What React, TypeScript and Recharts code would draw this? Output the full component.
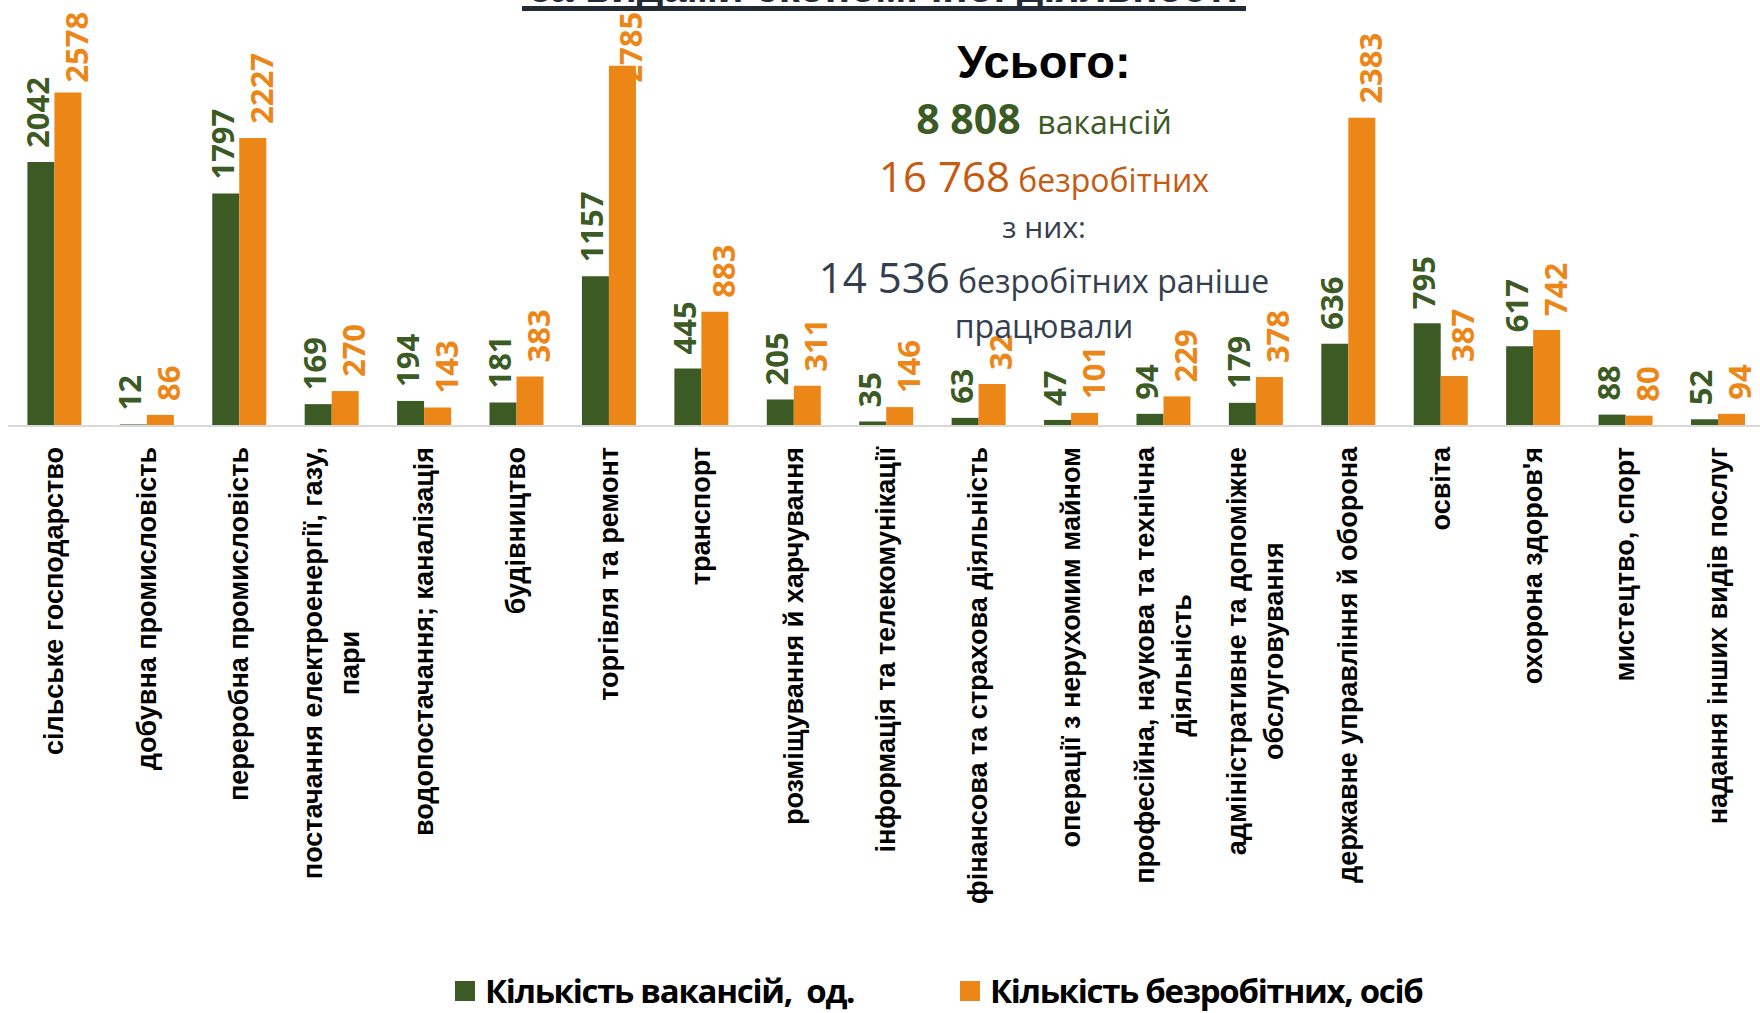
import React from 'react';
import { BarChart, Bar, XAxis, YAxis, Legend, LabelList } from 'recharts';

const categories = [
  'сільське господарство',
  'добувна промисловість',
  'переробна промисловість',
  'постачання електроенергії, газу,\nпари',
  'водопостачання; каналізація',
  'будівництво',
  'торгівля та ремонт',
  'транспорт',
  'розміщування й харчування',
  'інформація та телекомунікації',
  'фінансова та страхова діяльність',
  'операції з нерухомим майном',
  'професійна, наукова та технічна\nдіяльність',
  'адміністративне та допоміжне\nобслуговування',
  'державне управління й оборона',
  'освіта',
  "охорона здоров'я",
  'мистецтво, спорт',
  'надання інших видів послуг',
];

const vacancies = [2042, 12, 1797, 169, 194, 181, 1157, 445, 205, 35, 63, 47, 94, 179, 636, 795, 617, 88, 52];
const unemployed = [2578, 86, 2227, 270, 143, 383, 2785, 883, 311, 146, 324, 101, 229, 378, 2383, 387, 742, 80, 94];

const seriesNames = ['Кількість вакансій,  од.', 'Кількість безробітних, осіб'];

const GREEN = '#3C5A24';
const ORANGE = '#EC8617';

const W = 1760;
const H = 1013;
const LEGEND_H = 44;
const XAXIS_H = 543;
const AXIS_Y = H - LEGEND_H - XAXIS_H;

const data = categories.map((name, i) => ({
  name,
  vacancies: vacancies[i],
  unemployed: unemployed[i],
}));

let ctx: CanvasRenderingContext2D | null = null;
function textWidth(s: string, font: string) {
  if (!ctx) ctx = document.createElement('canvas').getContext('2d');
  if (!ctx) return s.length * 14;
  ctx.font = font;
  return ctx.measureText(s).width;
}

const TICK_SIZE = 27;
const tickFont = `bold ${TICK_SIZE}px "Liberation Sans"`;

const CategoryTick = ({ x, payload }: any) => {
  const lines = String(payload.value).split('\n');
  const maxW = Math.max(...lines.map((l) => textWidth(l, tickFont)));
  const cy = AXIS_Y + 21 + maxW / 2;
  return (
    <g>
      {lines.map((l, i) => {
        const lx = x + (i - (lines.length - 1) / 2) * 37;
        return (
          <text
            key={i}
            transform={`translate(${lx},${cy}) rotate(-90)`}
            textAnchor="middle"
            dominantBaseline="central"
            fontFamily="Liberation Sans"
            fontWeight="bold"
            fontSize={TICK_SIZE}
            fill="#000"
          >
            {l}
          </text>
        );
      })}
    </g>
  );
};

const makeLabel = (color: string, dx: number) => (props: any) => {
  const { x, y, width, value } = props;
  const s = String(value);
  const len = s.length * 17.7;
  const bottom = Math.max(y - 14, 12 + len);
  return (
    <text
      transform={`translate(${x + width / 2 + dx},${bottom}) rotate(-90)`}
      textAnchor="start"
      dominantBaseline="central"
      fontFamily="Open Sans"
      fontWeight="bold"
      fontSize={31}
      fill={color}
    >
      {s}
    </text>
  );
};

const LegendContent = () => (
  <div style={{ position: 'relative', width: W, height: LEGEND_H }}>
    {[GREEN, ORANGE].map((c, i) => (
      <div
        key={i}
        style={{
          position: 'absolute',
          left: i === 0 ? 455 : 960,
          top: 0,
          height: LEGEND_H,
          display: 'flex',
          alignItems: 'center',
          whiteSpace: 'pre',
        }}
      >
        <span style={{ width: 20, height: 20, background: c, marginRight: 10, flex: 'none' }} />
        <span
          style={{
            fontFamily: '"Open Sans"',
            fontWeight: 'bold',
            fontSize: 33,
            letterSpacing: -1.3,
            lineHeight: `${LEGEND_H}px`,
            color: '#000',
          }}
        >
          {seriesNames[i]}
        </span>
      </div>
    ))}
  </div>
);

const lineStyle = (top: number, h: number): React.CSSProperties => ({
  position: 'absolute',
  left: 744,
  width: 600,
  top: top - h / 2,
  height: h,
  lineHeight: `${h}px`,
  textAlign: 'center',
  whiteSpace: 'pre',
  fontFamily: '"Open Sans"',
});

export default function App() {
  return (
    <div style={{ position: 'absolute', left: 0, top: 0, width: W, height: H, overflow: 'hidden', background: '#fff' }}>
      <BarChart
        width={W}
        height={H}
        data={data}
        margin={{ top: 38, right: -4, left: 8, bottom: 0 }}
        barCategoryGap="21%"
        barGap={0}
      >
        <XAxis
          dataKey="name"
          interval={0}
          height={XAXIS_H}
          tick={<CategoryTick />}
          tickLine={false}
          axisLine={{ stroke: '#D9D9D9', strokeWidth: 2 }}
        />
        <YAxis hide domain={[0, 3000]} />
        <Legend verticalAlign="bottom" content={<LegendContent />} wrapperStyle={{ left: 0, bottom: 0, width: W }} />
        <Bar dataKey="vacancies" fill={GREEN} isAnimationActive={false}>
          <LabelList dataKey="vacancies" content={makeLabel(GREEN, -4)} />
        </Bar>
        <Bar dataKey="unemployed" fill={ORANGE} isAnimationActive={false}>
          <LabelList dataKey="unemployed" content={makeLabel(ORANGE, 8)} />
        </Bar>
      </BarChart>

      <svg style={{ position: 'absolute', left: 0, top: 0 }} width={W} height={14}>
        <text x={884} y={2} textAnchor="middle" fontFamily="Liberation Sans" fontWeight="bold" fontSize={42} fill="#222A35">
          за видами економічної діяльності
        </text>
        <rect x={522} y={6} width={724} height={5} fill="#222A35" />
      </svg>

      <div style={{ position: 'absolute', left: 950, top: 305, width: 190, height: 30, background: '#fff' }} />

      <div style={{ ...lineStyle(62, 54), fontFamily: '"Liberation Sans"', fontWeight: 'bold', fontSize: 47, color: '#000' }}>
        Усього:
      </div>
      <div style={{ ...lineStyle(118, 52), color: GREEN }}>
        <span style={{ fontSize: 41, fontWeight: 'bold' }}>8 808</span>
        <span style={{ fontSize: 32 }}>  вакансій</span>
      </div>
      <div style={{ ...lineStyle(176, 52), color: '#C55A11' }}>
        <span style={{ fontSize: 42 }}>16 768</span>
        <span style={{ fontSize: 32 }}> безробітних</span>
      </div>
      <div style={{ ...lineStyle(227, 44), color: '#333F50', fontSize: 30 }}>з них:</div>
      <div style={{ ...lineStyle(277, 52), color: '#333F50' }}>
        <span style={{ fontSize: 42 }}>14 536</span>
        <span style={{ fontSize: 32 }}> безробітних раніше</span>
      </div>
      <div style={{ ...lineStyle(326, 40), color: '#333F50', fontSize: 32 }}>працювали</div>
    </div>
  );
}
